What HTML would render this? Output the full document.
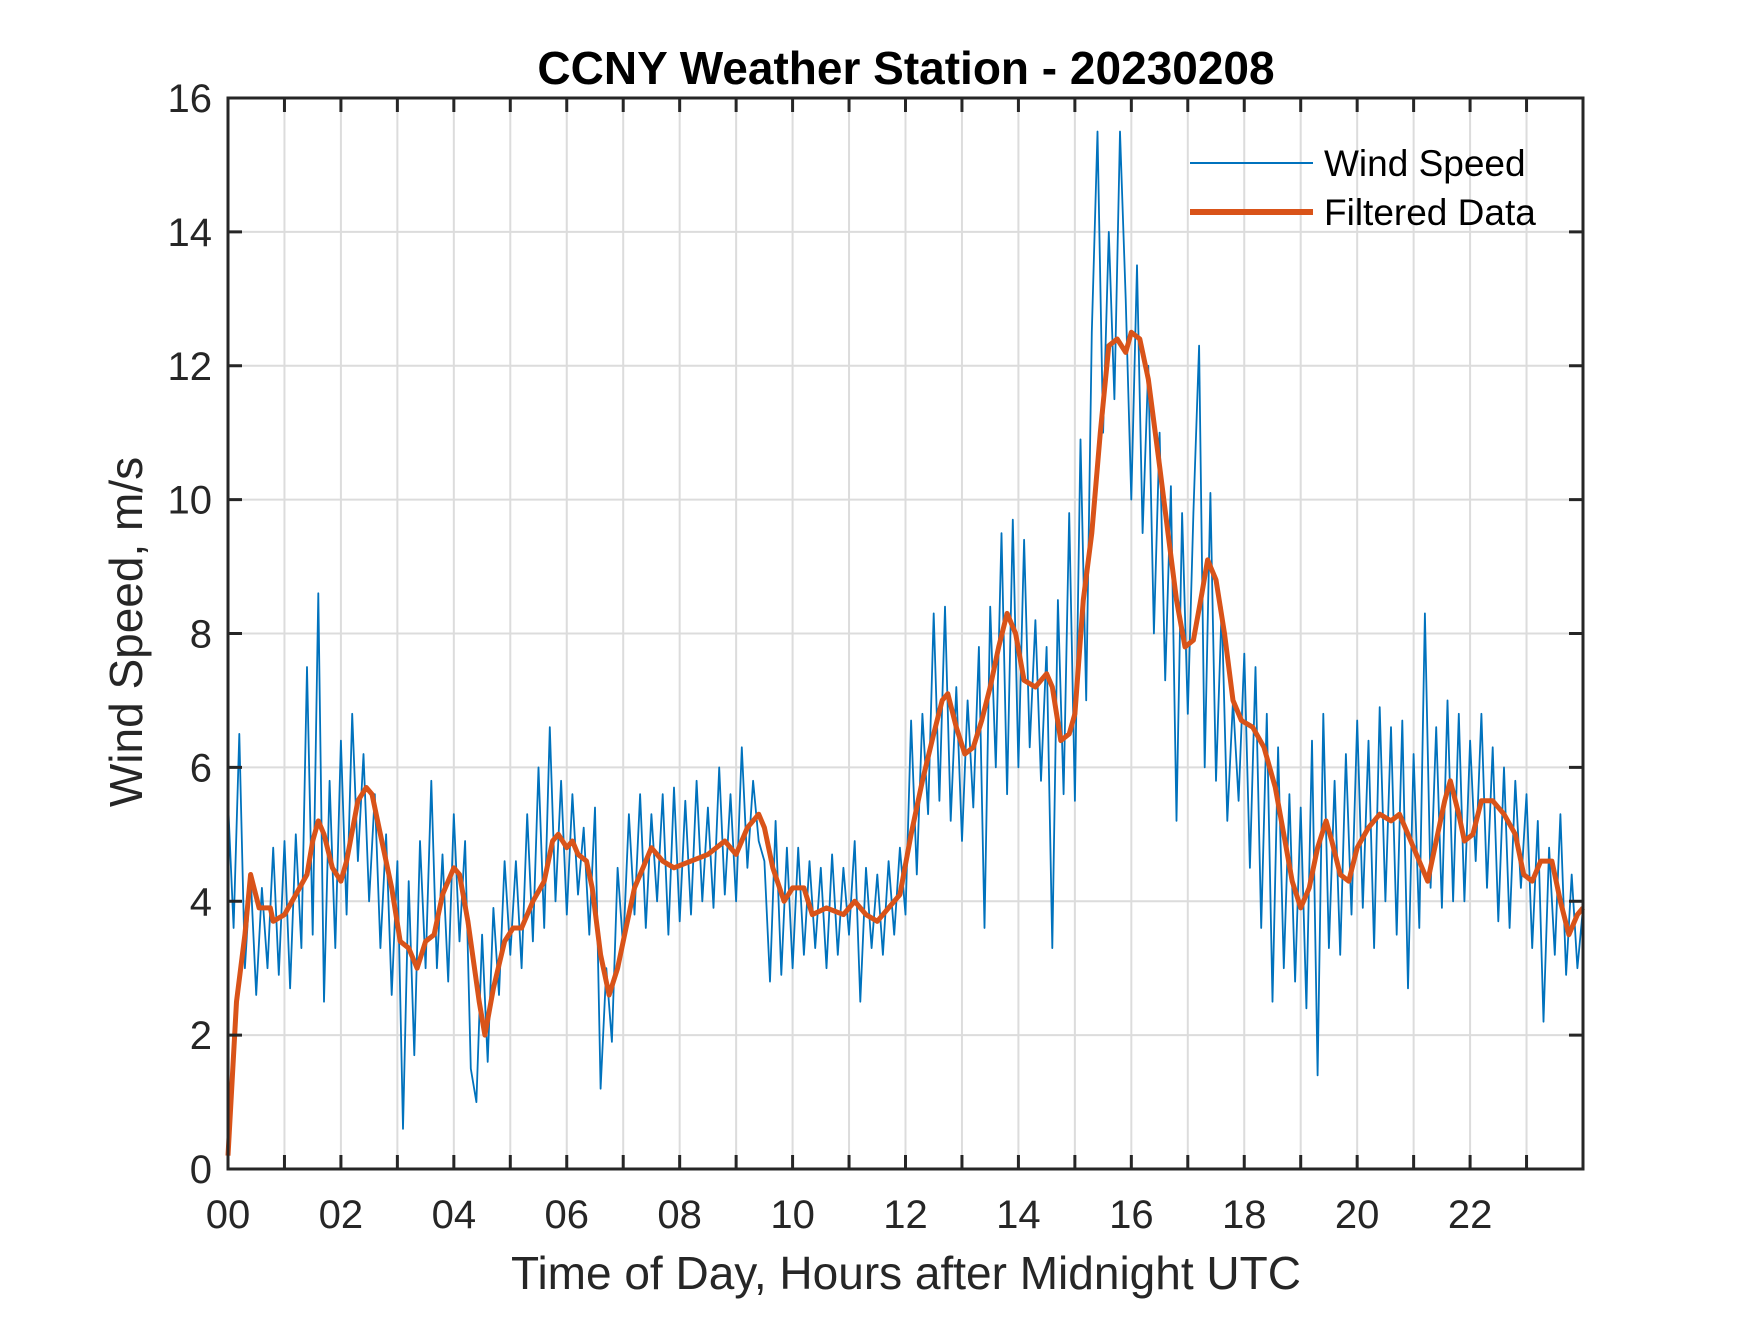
<!DOCTYPE html>
<html><head><meta charset="utf-8"><style>
body{margin:0;background:#fff;}
svg text{font-family:"Liberation Sans",sans-serif;fill:#262626;}
</style></head><body>
<svg id="chart" width="1750" height="1313" xmlns="http://www.w3.org/2000/svg">
<rect width="1750" height="1313" fill="#fff"/>
<g id="grid"></g>
<g id="series"></g>
<g id="axes"></g>
<text x="906" y="84" font-size="46" font-weight="bold" text-anchor="middle" style="fill:#000">CCNY Weather Station - 20230208</text>
<text x="906" y="1289" font-size="46" text-anchor="middle">Time of Day, Hours after Midnight UTC</text>
<text x="0" y="0" font-size="46" text-anchor="middle" transform="translate(142,632) rotate(-90)">Wind Speed, m/s</text>
<g>
<line x1="1190" y1="163" x2="1313" y2="163" stroke="#0072BD" stroke-width="2"/>
<text x="1324" y="176" font-size="37" style="fill:#000">Wind Speed</text>
<line x1="1190" y1="212" x2="1313" y2="212" stroke="#D95319" stroke-width="6"/>
<text x="1324" y="225" font-size="37" style="fill:#000">Filtered Data</text>
</g>
</svg>
<script>
const yTicks=[0,2,4,6,8,10,12,14,16];
const xTickLabels=["00","02","04","06","08","10","12","14","16","18","20","22"];
const windSpeed=[
5.5,3.6,6.5,3.0,4.4,2.6,4.2,3.0,4.8,2.9,
4.9,2.7,5.0,3.3,7.5,3.5,8.6,2.5,5.8,3.3,
6.4,3.8,6.8,4.6,6.2,4.0,5.6,3.3,5.0,2.6,
4.6,0.6,4.3,1.7,4.9,3.0,5.8,3.0,4.7,2.8,
5.3,3.4,4.9,1.5,1.0,3.5,1.6,3.9,2.6,4.6,
3.2,4.6,3.0,5.3,3.4,6.0,3.6,6.6,4.0,5.8,
3.8,5.6,4.1,5.1,3.5,5.4,1.2,3.0,1.9,4.5,
3.3,5.3,3.8,5.6,3.6,5.3,4.0,5.6,3.5,5.7,
3.7,5.5,3.8,5.8,4.0,5.4,3.9,6.0,4.1,5.6,
4.0,6.3,4.5,5.8,4.9,4.6,2.8,5.2,2.9,4.8,
3.0,4.8,3.2,4.6,3.3,4.5,3.0,4.7,3.2,4.5,
3.5,4.9,2.5,4.5,3.3,4.4,3.2,4.6,3.5,4.8,
3.8,6.7,4.4,6.8,5.3,8.3,5.5,8.4,5.2,7.2,
4.9,7.0,5.4,7.8,3.6,8.4,6.0,9.5,5.6,9.7,
6.0,9.4,6.3,8.2,5.8,7.8,3.3,8.5,5.6,9.8,
5.5,10.9,7.0,12.5,15.5,11.0,14.0,11.5,15.5,13.0,
10.0,13.5,9.5,12.0,8.0,11.0,7.3,10.2,5.2,9.8,
6.8,9.8,12.3,6.0,10.1,5.8,8.4,5.2,7.0,5.5,
7.7,4.5,7.5,3.6,6.8,2.5,6.3,3.0,5.6,2.8,
5.4,2.4,6.4,1.4,6.8,3.3,5.8,3.2,6.2,3.8,
6.7,3.9,6.4,3.3,6.9,4.0,6.6,3.5,6.7,2.7,
6.2,3.6,8.3,4.2,6.6,3.9,7.0,4.0,6.8,4.0,
6.4,4.6,6.8,4.2,6.3,3.7,6.0,3.6,5.8,4.2,
5.6,3.3,5.2,2.2,4.8,3.2,5.3,2.9,4.4,3.0,3.9];
const filtHours=[0,0.15,0.3,0.4,0.55,0.75,0.8,1.0,1.2,1.4,1.5,1.6,1.7,1.85,2.0,2.1,2.3,2.45,2.55,2.7,2.9,3.05,3.2,3.35,3.5,3.65,3.8,4.0,4.1,4.25,4.45,4.55,4.7,4.9,5.05,5.2,5.4,5.6,5.75,5.85,6.0,6.1,6.2,6.35,6.45,6.6,6.75,6.9,7.05,7.2,7.4,7.5,7.7,7.9,8.2,8.5,8.8,9.0,9.2,9.4,9.5,9.65,9.85,10.0,10.2,10.35,10.6,10.9,11.1,11.3,11.5,11.7,11.9,12.1,12.3,12.5,12.65,12.75,12.9,13.05,13.2,13.35,13.5,13.65,13.8,13.95,14.1,14.3,14.5,14.6,14.75,14.9,15.0,15.15,15.3,15.45,15.6,15.75,15.9,16.0,16.15,16.3,16.5,16.65,16.8,16.95,17.1,17.25,17.35,17.5,17.65,17.8,17.95,18.15,18.35,18.55,18.7,18.85,19.0,19.15,19.3,19.45,19.55,19.7,19.85,20.0,20.2,20.4,20.6,20.75,20.9,21.0,21.15,21.25,21.4,21.55,21.65,21.8,21.9,22.05,22.2,22.4,22.6,22.8,22.95,23.1,23.25,23.45,23.6,23.75,23.9,24];
const filtValues=[0.2,2.5,3.5,4.4,3.9,3.9,3.7,3.8,4.1,4.4,4.9,5.2,5.0,4.5,4.3,4.6,5.5,5.7,5.6,5.0,4.2,3.4,3.3,3.0,3.4,3.5,4.1,4.5,4.4,3.7,2.5,2.0,2.7,3.4,3.6,3.6,4.0,4.3,4.9,5.0,4.8,4.9,4.7,4.6,4.2,3.2,2.6,3.0,3.6,4.2,4.6,4.8,4.6,4.5,4.6,4.7,4.9,4.7,5.1,5.3,5.1,4.5,4.0,4.2,4.2,3.8,3.9,3.8,4.0,3.8,3.7,3.9,4.1,5.0,5.8,6.5,7.0,7.1,6.6,6.2,6.3,6.7,7.2,7.8,8.3,8.0,7.3,7.2,7.4,7.2,6.4,6.5,6.8,8.5,9.5,11.0,12.3,12.4,12.2,12.5,12.4,11.8,10.5,9.5,8.5,7.8,7.9,8.6,9.1,8.8,8.0,7.0,6.7,6.6,6.3,5.7,5.0,4.3,3.9,4.2,4.8,5.2,4.9,4.4,4.3,4.8,5.1,5.3,5.2,5.3,5.0,4.8,4.5,4.3,4.9,5.5,5.8,5.3,4.9,5.0,5.5,5.5,5.3,5.0,4.4,4.3,4.6,4.6,4.0,3.5,3.8,3.9];

const L=228,R=1583,T=98,B=1169,XMAX=24,YMAX=16;
const xs=h=>L+(R-L)*h/XMAX, ys=v=>B-(B-T)*v/YMAX;
const NS="http://www.w3.org/2000/svg";
function mk(tag,attrs,parent){const e=document.createElementNS(NS,tag);for(const k in attrs)e.setAttribute(k,attrs[k]);parent.appendChild(e);return e;}
const grid=document.getElementById('grid'),axes=document.getElementById('axes'),series=document.getElementById('series');
for(let h=1;h<XMAX;h++){const l=mk('line',{x1:xs(h),x2:xs(h),y1:T,y2:B,stroke:'#dcdcdc','stroke-width':2},grid);


for(const[y1,y2]of[[B,B-14],[T,T+14]]){const t=mk('line',{x1:xs(h),x2:xs(h),y1:y1,y2:y2,stroke:'#262626','stroke-width':3},axes);

}}
xTickLabels.forEach((s,i)=>{const t=mk('text',{x:xs(i*2),y:1228,'font-size':40,'text-anchor':'middle'},axes);t.textContent=s;

});
yTicks.forEach(v=>{if(v>0&&v<YMAX){const l=mk('line',{x1:L,x2:R,y1:ys(v),y2:ys(v),stroke:'#dcdcdc','stroke-width':2},grid);


for(const[x1,x2]of[[L,L+14],[R,R-14]]){const t=mk('line',{x1:x1,x2:x2,y1:ys(v),y2:ys(v),stroke:'#262626','stroke-width':3},axes);

}}
const t=mk('text',{x:L-16,y:ys(v)+14,'font-size':40,'text-anchor':'end'},axes);t.textContent=v;

});
const box=mk('rect',{x:L,y:T,width:R-L,height:B-T,fill:'none',stroke:'#262626','stroke-width':3},axes);


const n=windSpeed.length-1;
const wp=windSpeed.map((v,i)=>xs(i*XMAX/n).toFixed(1)+','+ys(v).toFixed(1)).join(' ');
const w=mk('polyline',{points:wp,fill:'none',stroke:'#0072BD','stroke-width':1.8,'stroke-linejoin':'round'},series);


const fp=filtValues.map((v,i)=>xs(filtHours[i]).toFixed(1)+','+ys(v).toFixed(1)).join(' ');
const f=mk('polyline',{points:fp,fill:'none',stroke:'#D95319','stroke-width':5,'stroke-linejoin':'round'},series);


</script>
</body></html>
